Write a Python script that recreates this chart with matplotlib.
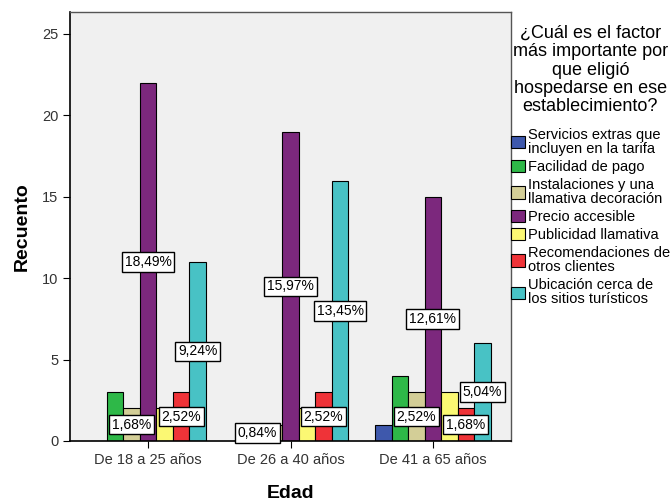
import numpy as np
import matplotlib
matplotlib.use("Agg")
from matplotlib import pyplot as plt
from matplotlib.patches import Patch

plt.rcParams['font.family'] = ['Liberation Sans', 'DejaVu Sans']

groups = ["De 18 a 25 años", "De 26 a 40 años", "De 41 a 65 años"]
series = [
    "Servicios extras que\nincluyen en la tarifa",
    "Facilidad de pago",
    "Instalaciones y una\nllamativa decoración",
    "Precio accesible",
    "Publicidad llamativa",
    "Recomendaciones de\notros clientes",
    "Ubicación cerca de\nlos sitios turísticos",
]
colors = ["#3E58AC", "#2EB848", "#D3CE97", "#7C287D", "#FBF873", "#EF3338", "#48C2C5"]

servicios = [0, 0, 1]
facilidad = [3, 1, 4]
instalaciones = [2, 1, 3]
precio = [22, 19, 15]
publicidad = [2, 2, 3]
recomendaciones = [3, 3, 2]
ubicacion = [11, 16, 6]
counts = np.array([servicios, facilidad, instalaciones, precio,
                   publicidad, recomendaciones, ubicacion])
total = 119

# (group, series) pairs that carry a percentage box
labeled = [(0, 2), (0, 3), (0, 5), (0, 6),
           (1, 1), (1, 3), (1, 5), (1, 6),
           (2, 2), (2, 3), (2, 5), (2, 6)]

fig = plt.figure(figsize=(6.71, 5.03), dpi=100)
ax = fig.add_axes([70 / 671, 1 - 441 / 503, (511 - 70) / 671, (441 - 12) / 503])
ax.set_facecolor("#F0F0F0")

x = np.arange(len(groups))
w = 0.116
for i in range(len(series)):
    pos = x + (i - 3) * w
    ax.bar(pos, counts[i], width=w, color=colors[i], edgecolor="black", linewidth=0.8, zorder=2)

for g, s in labeled:
    v = counts[s][g]
    pct = f"{v / total * 100:.2f}%".replace(".", ",")
    ax.text(x[g] + (s - 3) * w, v / 2, pct, ha="center", va="center", fontsize=10,
            zorder=5, bbox=dict(boxstyle="square,pad=0.2", fc="white", ec="black", lw=1))

ax.set_xlim(-0.55, 2.55)
ax.set_ylim(0, 26.35)
ax.set_yticks([0, 5, 10, 15, 20, 25])
ax.set_xticks(x)
ax.set_xticklabels(groups)
ax.tick_params(axis="both", labelsize=10.5, colors="#333333", length=5, direction="out")
ax.tick_params(axis="both", color="black")
for side in ["top", "right"]:
    ax.spines[side].set_color("#555555")
    ax.spines[side].set_linewidth(1.0)
ax.spines["left"].set_linewidth(1.2)
ax.spines["bottom"].set_linewidth(1.2)
ax.set_ylabel("Recuento", fontsize=14, fontweight="bold", labelpad=8)
ax.set_xlabel("Edad", fontsize=14, fontweight="bold", labelpad=13)

handles = [Patch(facecolor=c, edgecolor="black", linewidth=0.8) for c in colors]
leg = fig.legend(handles, series, loc="upper left", bbox_to_anchor=(511 / 671, 1 - 25 / 503),
                 title="¿Cuál es el factor\nmás importante por\nque eligió\nhospedarse en ese\nestablecimiento?",
                 frameon=False, fontsize=10.5, title_fontsize=13, handlelength=0.95,
                 handleheight=0.9, handletextpad=0.2, labelspacing=0.26, borderpad=0,
                 borderaxespad=0)
leg._legend_box.align = "center"
leg._legend_box.sep = 9
for t in leg.get_texts():
    t.set_linespacing(1.04)
leg.get_title().set_linespacing(1.1)
leg.get_title().set_ha("center")

plt.savefig("out.png", dpi=100)
